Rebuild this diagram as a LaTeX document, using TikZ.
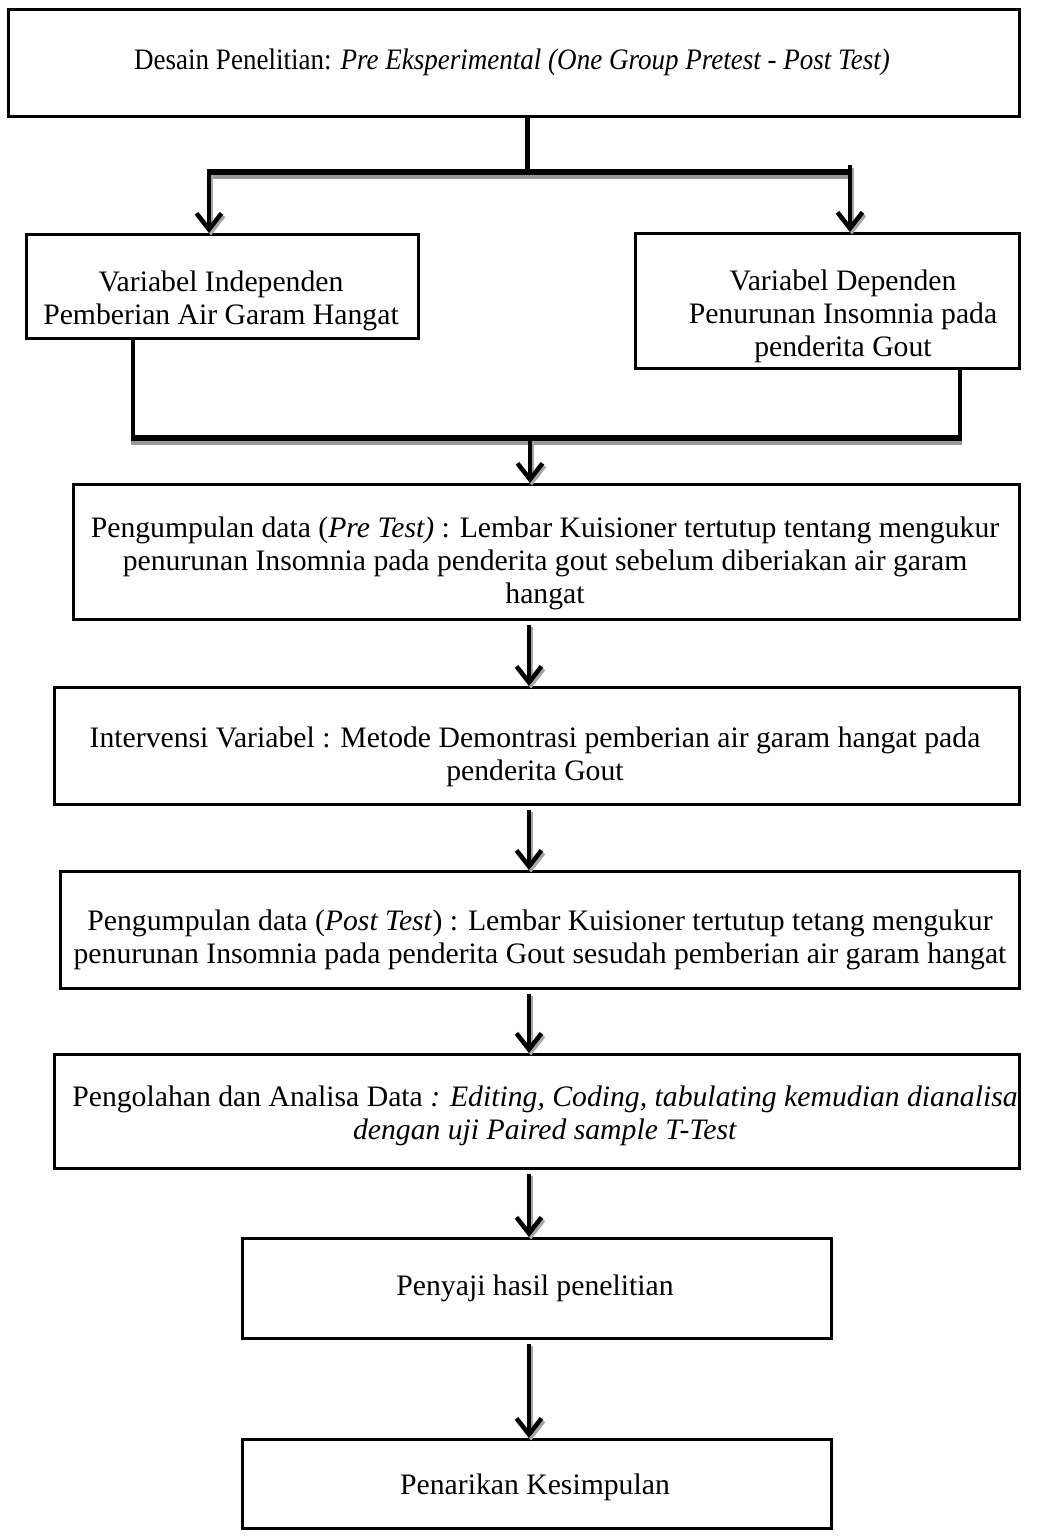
\documentclass[tikz,border=0pt]{standalone}
\usepackage{fontspec}
\setmainfont{Liberation Serif}
\newfontfamily\narrowserif[FakeStretch=0.91]{Liberation Serif}
\usetikzlibrary{arrows.meta}
\begin{document}
\begin{tikzpicture}[x=1pt,y=-1pt,
  box/.style={draw, line width=2.6pt, inner sep=0pt, anchor=north west},
  lbl/.style={font=\fontsize{29.7}{33}\selectfont, align=center, inner sep=0pt},
  arr/.style={line width=4.5pt, -{Straight Barb[length=16pt,width=25pt]}},
  shade/.style={draw=black!35, transform canvas={shift={(2pt,-2.5pt)}}},
  bar/.style={line width=6pt},
  barshade/.style={draw=black!40, line width=6pt, transform canvas={shift={(0pt,-4pt)}}}]
\fill[white] (0,0) rectangle (1041,1537);
\useasboundingbox (0,0) rectangle (1041,1537);

% boxes
\path (7,8) node[box, minimum width=1011pt, minimum height=107pt] (b1) {};
\path (25,233) node[box, minimum width=392pt, minimum height=104pt] (bL) {};
\path (634,232) node[box, minimum width=384pt, minimum height=135pt] (bR) {};
\path (72,483) node[box, minimum width=946pt, minimum height=135pt] (b3) {};
\path (53,686) node[box, minimum width=965pt, minimum height=117pt] (b4) {};
\path (59,870) node[box, minimum width=959pt, minimum height=117pt] (b5) {};
\path (53,1053) node[box, minimum width=965pt, minimum height=114pt] (b6) {};
\path (241,1237) node[box, minimum width=589pt, minimum height=100pt] (b7) {};
\path (241,1438) node[box, minimum width=589pt, minimum height=89pt] (b8) {};

% labels
\node[lbl] (t1) at (512,62) {\narrowserif Desain Penelitian: \textit{Pre Eksperimental (One Group Pretest - Post Test)}};
\node[lbl] (tL) at (221,301) {Variabel Independen\\Pemberian Air Garam Hangat};
\node[lbl] (tR) at (843,316) {Variabel Dependen\\Penurunan Insomnia pada\\penderita Gout};
\node[lbl] (t3) at (545,563) {Pengumpulan data (\textit{Pre Test)} : Lembar Kuisioner tertutup tentang mengukur\\penurunan Insomnia pada penderita gout sebelum diberiakan air garam\\hangat};
\node[lbl] (t4) at (535,757) {Intervensi Variabel : Metode Demontrasi pemberian air garam hangat pada\\penderita Gout};
\node[lbl] (t5) at (540,940) {Pengumpulan data (\textit{Post Test}) : Lembar Kuisioner tertutup tetang mengukur\\penurunan Insomnia pada penderita Gout sesudah pemberian air garam hangat};
\node[lbl] (t6) at (545,1116) {Pengolahan dan Analisa Data \textit{: Editing, Coding, tabulating kemudian dianalisa}\\\textit{dengan uji Paired sample T-Test}};
\node[lbl] (t7) at (535,1288) {Penyaji hasil penelitian};
\node[lbl] (t8) at (535,1487) {Penarikan Kesimpulan};

% junction coordinates
\coordinate (j1) at (527,172);
\coordinate (jL) at (209,172);
\coordinate (jR) at (850,172);
\coordinate (jRt) at (850,165);
\coordinate (kL) at (133,438);
\coordinate (kR) at (960,438);
\coordinate (kM) at (530,438);
\coordinate (ax) at (529,0);

% top split
\draw[line width=5pt] (b1.south -| j1) -- (j1);
\draw[barshade] ([xshift=-2pt]jL) -- ([xshift=2pt]jR);
\draw[bar] ([xshift=-2pt]jL) -- ([xshift=2pt]jR);
\draw[arr, shade] (jL) -- (jL |- bL.north);
\draw[arr] (jL) -- (jL |- bL.north);
\draw[arr, shade] (jRt) -- (jR |- bR.north);
\draw[arr] (jRt) -- (jR |- bR.north);

% merge
\draw[line width=4.5pt] (bL.south -| kL) -- (kL);
\draw[line width=4.5pt] (bR.south -| kR) -- (kR);
\draw[barshade] ([xshift=-2pt]kL) -- ([xshift=2pt]kR);
\draw[bar] ([xshift=-2pt]kL) -- ([xshift=2pt]kR);
\draw[arr, shade] (kM) -- (kM |- b3.north);
\draw[arr] (kM) -- (kM |- b3.north);

% chain
\foreach \a/\b in {b3/b4, b4/b5, b5/b6, b6/b7, b7/b8}{
  \draw[arr, shade, shorten <=4pt] (\a.south -| ax) -- (\b.north -| ax);
  \draw[arr, shorten <=4pt] (\a.south -| ax) -- (\b.north -| ax);
}
\end{tikzpicture}
\end{document}
